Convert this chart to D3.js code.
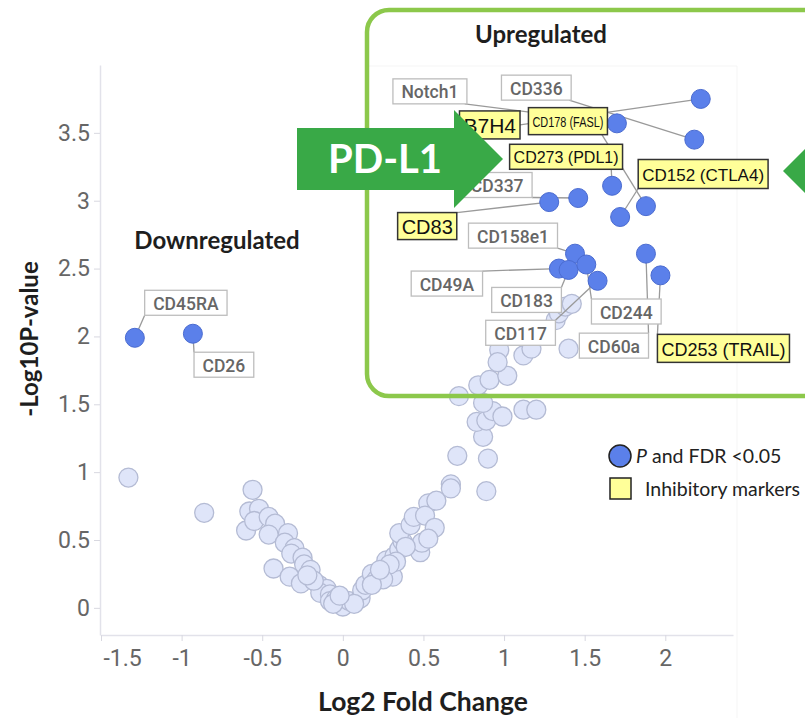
<!DOCTYPE html>
<html>
<head>
<meta charset="utf-8">
<script src="https://cdn.jsdelivr.net/npm/d3@7"></script>
<style>
  html, body { margin: 0; padding: 0; background: #fff; }
  svg { display: block; }
</style>
</head>
<body>
<svg id="chart" width="805" height="718"></svg>
<script>
(function() {
  'use strict';

  // ---- data ----
  const xTicks = [-1.5, -1, -0.5, 0, 0.5, 1, 1.5, 2];
  const yTicks = [0, 0.5, 1, 1.5, 2, 2.5, 3, 3.5];

  // significant markers (P and FDR < 0.05)
  const sigNames = ['Notch1', 'CD336', 'B7H4', 'CD178 (FASL)', 'CD273 (PDL1)', 'CD152 (CTLA4)',
    'CD337', 'CD83', 'CD158e1', 'CD49A', 'CD183', 'CD117', 'CD244', 'CD60a', 'CD253 (TRAIL)',
    'CD45RA', 'CD26'];
  const sigFold = [1.70, 2.18, 2.22, 1.88, 1.67, 1.72, 1.46, 1.28, 1.44, 1.34, 1.40, 1.58, 1.51, 1.88, 1.97, -1.29, -0.93];
  const sigLogP = [3.57, 3.45, 3.75, 2.96, 3.11, 2.88, 3.02, 2.99, 2.61, 2.50, 2.49, 2.41, 2.53, 2.61, 2.45, 1.99, 2.02];

  const inhibitory = ['B7H4', 'CD178 (FASL)', 'CD273 (PDL1)', 'CD152 (CTLA4)', 'CD83', 'CD253 (TRAIL)'];

  // non-significant markers
  const nsFold = [-1.33, -0.86, -0.56, -0.58, -0.52, -0.60, -0.55, -0.46, -0.42, -0.46,
    -0.34, -0.36, -0.30, -0.32, -0.43, -0.25, -0.24, -0.33, -0.20, -0.26,
    -0.15, -0.10, -0.14, -0.08, -0.08, -0.04, 0.00, 0.04, 0.11, 0.12,
    0.14, 0.18, 0.21, 0.27, 0.31, 0.27, 0.32, 0.35, 0.37, 0.35,
    0.42, 0.44, 0.48, 0.49, 0.53, 0.51, 0.57, 0.53, 0.39, 0.33,
    0.29, 0.25, 0.58, 0.67, 0.67, 0.71, 0.90, 0.89, 0.87, 0.83,
    0.89, 0.93, 0.99, 0.87, 0.72, 0.84, 0.91, 1.02, 1.12, 1.20,
    0.97, 0.96, 1.12, 1.17, 1.40, 1.32, 1.34, 1.38, 1.42, -0.06,
    0.07, -0.02, -0.18, 0.18, -0.22, 0.23];
  const nsLogP = [0.96, 0.70, 0.87, 0.71, 0.73, 0.57, 0.64, 0.67, 0.62, 0.54,
    0.55, 0.48, 0.44, 0.40, 0.29, 0.37, 0.32, 0.23, 0.28, 0.18,
    0.17, 0.14, 0.11, 0.10, 0.05, 0.07, 0.01, 0.05, 0.07, 0.13,
    0.17, 0.25, 0.21, 0.23, 0.23, 0.35, 0.38, 0.43, 0.49, 0.55,
    0.61, 0.67, 0.41, 0.48, 0.77, 0.68, 0.59, 0.51, 0.45, 0.34,
    0.32, 0.21, 0.79, 0.91, 0.88, 1.12, 1.10, 0.86, 1.26, 1.37,
    1.38, 1.45, 1.41, 1.51, 1.56, 1.64, 1.68, 1.71, 1.46, 1.46,
    1.90, 1.81, 1.86, 1.91, 1.91, 2.12, 2.17, 2.22, 2.24, 0.03,
    0.03, 0.09, 0.20, 0.17, 0.24, 0.28];

  // label placement: box centre offset from its point (px), connector anchor on the box, font size, box height
  const labelLayout = {
    'Notch1':        { dx: -187, dy: -32, ax: 0.97, ay: 1 },
    'CD336':         { dx: -158, dy: -52, ax: 0.97, ay: 1 },
    'B7H4':          { dx: -211, dy: 26,  ax: 1,    ay: 0.5, size: 21, h: 28 },
    'CD178 (FASL)':  { dx: -78,  dy: -85, ax: 0.93, ay: 1,   size: 14, h: 27, fit: 71 },
    'CD273 (PDL1)':  { dx: -46,  dy: -29, ax: 0.9,  ay: 1,   size: 16, h: 25 },
    'CD152 (CTLA4)': { dx: 83,   dy: -43, ax: 0,    ay: 1,   size: 17, h: 29 },
    'CD337':         { dx: -81,  dy: -13, ax: 1,    ay: 1 },
    'CD83':          { dx: -122, dy: 24,  ax: 1,    ay: 0,   size: 20, h: 27 },
    'CD158e1':       { dx: -62,  dy: -18, ax: 1,    ay: 1 },
    'CD49A':         { dx: -112, dy: 15,  ax: 1,    ay: 0 },
    'CD183':         { dx: -42,  dy: 30,  ax: 1,    ay: 0 },
    'CD117':         { dx: -77,  dy: 52,  ax: 1,    ay: 0 },
    'CD244':         { dx: 40,   dy: 47,  ax: 0,    ay: 0 },
    'CD60a':         { dx: -32,  dy: 92,  ax: 1,    ay: 0 },
    'CD253 (TRAIL)': { dx: 63,   dy: 73,  ax: 0,    ay: 0,   size: 18, h: 28 },
    'CD45RA':        { dx: 51,   dy: -35, ax: 0,    ay: 1 },
    'CD26':          { dx: 31,   dy: 31,  ax: 0,    ay: 0 }
  };

  // ---- styles ----
  const C = {
    nsFill: '#dfe5f9', nsStroke: '#b4bbd4',
    sigFill: '#5b80ea', sigStroke: '#4a6bd0',
    axis: '#e2e2ea', tickText: '#666',
    yellow: '#ffff99', boxLine: '#333',
    grayBox: '#bdbdbd', grayText: '#666', connector: '#9a9a9a',
    green: '#39a947', lightGreen: '#8cc84b', title: '#1e1e1e'
  };
  const calibri = 'Lato, "Open Sans", sans-serif';
  const R = 9.5;

  const svg = d3.select('#chart');

  const x = d3.scaleLinear().domain([-1.5, 2.42]).range([101, 733]);
  const y = d3.scaleLinear().domain([-0.2, 4]).range([635, 65]);

  // faint frame of the embedded chart image
  svg.append('path')
    .attr('d', 'M367,66H737V718')
    .attr('fill', 'none')
    .attr('stroke', '#f5f5f5');

  // ---- axes ----
  const xAxis = svg.append('g')
    .attr('transform', `translate(0,${y(-0.2)})`)
    .call(d3.axisBottom(x).tickValues(xTicks).tickSize(6).tickSizeOuter(0).tickPadding(9)
      .tickFormat(d => String(d)));
  const yAxis = svg.append('g')
    .attr('transform', 'translate(100,0)')
    .call(d3.axisLeft(y).tickValues(yTicks).tickSize(6).tickSizeOuter(0).tickPadding(4)
      .tickFormat(d => String(d)));

  [xAxis, yAxis].forEach(g => {
    g.select('.domain').attr('stroke', C.axis).attr('stroke-width', 1.5);
    g.selectAll('.tick line').attr('stroke', '#d8d8e0');
    g.selectAll('.tick text')
      .attr('font-family', 'Roboto, sans-serif')
      .attr('font-size', 23)
      .attr('fill', C.tickText);
  });
  // first x label is kept inside the axis range
  xAxis.selectAll('.tick text')
    .filter(d => d === xTicks[0])
    .attr('text-anchor', 'start')
    .attr('x', 2);

  // axis titles
  svg.append('text')
    .attr('x', 423).attr('y', 711)
    .attr('text-anchor', 'middle')
    .attr('font-family', calibri).attr('font-weight', 700).attr('font-size', 26.5)
    .attr('fill', C.title)
    .text('Log2 Fold Change');
  svg.append('text')
    .attr('transform', 'translate(38,339) rotate(-90)')
    .attr('text-anchor', 'middle')
    .attr('font-family', calibri).attr('font-weight', 700).attr('font-size', 24)
    .attr('fill', C.title)
    .text('-Log10P-value');

  // ---- points ----
  const nsData = nsFold.map((f, i) => ({ fold: f, logp: nsLogP[i] }));
  const sigData = sigNames.map((n, i) => ({ name: n, fold: sigFold[i], logp: sigLogP[i] }));

  svg.append('g').selectAll('circle')
    .data(nsData)
    .enter()
    .append('circle')
    .attr('cx', d => x(d.fold))
    .attr('cy', d => y(d.logp))
    .attr('r', R)
    .attr('fill', C.nsFill)
    .attr('stroke', C.nsStroke)
    .attr('stroke-width', 1.3);

  // connectors under the blue points, label boxes on top
  const lineG = svg.append('g');
  const sigG = svg.append('g');
  const boxG = svg.append('g');

  sigData.forEach(d => {
    const lay = labelLayout[d.name];
    const px = x(d.fold), py = y(d.logp);
    const inhib = inhibitory.includes(d.name);
    const size = lay.size || 17.5;
    const h = lay.h || 25;
    const g = boxG.append('g');
    const rect = g.append('rect');
    const t = g.append('text')
      .attr('text-anchor', 'middle')
      .attr('dy', '0.35em')
      .attr('font-family', inhib ? '"Liberation Sans", Arial, sans-serif' : 'Roboto, sans-serif')
      .attr('font-weight', inhib ? 400 : 500)
      .attr('font-size', size)
      .attr('fill', inhib ? '#111' : C.grayText)
      .text(d.name);
    if (lay.fit) {
      t.attr('textLength', lay.fit).attr('lengthAdjust', 'spacingAndGlyphs');
    }
    const tw = lay.fit || t.node().getComputedTextLength();
    const w = tw + (inhib ? 8 : 17);
    const cx = px + lay.dx, cy = py + lay.dy;
    const bx = cx - w / 2, by = cy - h / 2;
    t.attr('x', cx).attr('y', cy + 1);
    rect.attr('x', bx).attr('y', by).attr('width', w).attr('height', h)
      .attr('fill', inhib ? C.yellow : '#fff')
      .attr('stroke', inhib ? C.boxLine : C.grayBox)
      .attr('stroke-width', inhib ? 1.5 : 1.3);

    lineG.append('line')
      .attr('x1', bx + lay.ax * w).attr('y1', by + lay.ay * h)
      .attr('x2', px).attr('y2', py)
      .attr('stroke', C.connector)
      .attr('stroke-width', 1.3);
  });

  sigG.selectAll('circle')
    .data(sigData)
    .enter()
    .append('circle')
    .attr('cx', d => x(d.fold))
    .attr('cy', d => y(d.logp))
    .attr('r', R)
    .attr('fill', C.sigFill)
    .attr('stroke', C.sigStroke)
    .attr('stroke-width', 1);

  // region titles
  svg.append('text')
    .attr('x', 217).attr('y', 249)
    .attr('text-anchor', 'middle')
    .attr('font-family', calibri).attr('font-weight', 700).attr('font-size', 24)
    .attr('fill', C.title)
    .text('Downregulated');
  svg.append('text')
    .attr('x', 541).attr('y', 43)
    .attr('text-anchor', 'middle')
    .attr('font-family', calibri).attr('font-weight', 700).attr('font-size', 24)
    .attr('fill', C.title)
    .text('Upregulated');

  // ---- legend ----
  const leg = svg.append('g');
  leg.append('circle')
    .attr('cx', 620).attr('cy', 456).attr('r', 11)
    .attr('fill', C.sigFill).attr('stroke', '#222').attr('stroke-width', 1.5);
  const lt = leg.append('text')
    .attr('x', 636).attr('y', 463)
    .attr('font-family', calibri).attr('font-size', 19.5).attr('fill', '#222');
  lt.append('tspan').attr('font-style', 'italic').text('P');
  lt.append('tspan').text(' and FDR <0.05');
  leg.append('rect')
    .attr('x', 610).attr('y', 478).attr('width', 21).attr('height', 21)
    .attr('fill', C.yellow).attr('stroke', '#222').attr('stroke-width', 1.5);
  leg.append('text')
    .attr('x', 645).attr('y', 496)
    .attr('font-family', calibri).attr('font-size', 19.5).attr('fill', '#222')
    .text('Inhibitory markers');

  // ---- highlight box and arrows ----
  svg.append('rect')
    .attr('x', 367).attr('y', 10).attr('width', 480).attr('height', 386)
    .attr('rx', 22)
    .attr('fill', 'none')
    .attr('stroke', C.lightGreen)
    .attr('stroke-width', 4.5);

  const arrow = (x0, x1, tip, cy) => {
    // body from x0 to x1, head base at x1, tip at `tip`
    const bh = 31, hh = 49;
    return `M${x0},${cy - bh}L${x1},${cy - bh}L${x1},${cy - hh}L${tip},${cy}` +
      `L${x1},${cy + hh}L${x1},${cy + bh}L${x0},${cy + bh}Z`;
  };
  svg.append('path').attr('d', arrow(297, 454, 503, 159)).attr('fill', C.green);
  svg.append('path').attr('d', arrow(990, 832, 783, 171)).attr('fill', C.green);

  svg.append('text')
    .attr('x', 385).attr('y', 173)
    .attr('text-anchor', 'middle')
    .attr('font-family', calibri).attr('font-weight', 700).attr('font-size', 40)
    .attr('fill', '#fff')
    .text('PD-L1');
})();
</script>
</body>
</html>
